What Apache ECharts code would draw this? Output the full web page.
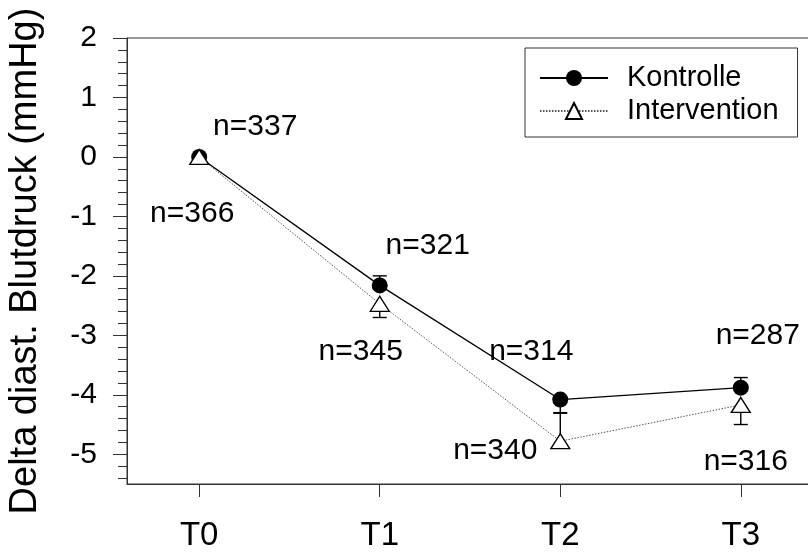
<!DOCTYPE html>
<html>
<head>
<meta charset="utf-8">
<script src="https://cdn.jsdelivr.net/npm/echarts@6/dist/echarts.min.js"></script>
<style>
  html, body { margin: 0; padding: 0; background: #fff; }
  #chart { width: 808px; height: 554px; }
</style>
</head>
<body>
<div id="chart"></div>
<script>
const categories = ['T0', 'T1', 'T2', 'T3'];
const kontrolle = [0, -2.16, -4.08, -3.88];
const intervention = [0, -2.47, -4.78, -4.17];
const kontrolleN = [337, 321, 314, 287];
const interventionN = [366, 345, 340, 316];
const kontrolleErrUp = [0, 0.16, 0, 0.17];
const kontrolleErrDown = [0, 0, 0.22, 0];
const interventionErrUp = [0, 0, 0.47, 0];
const interventionErrDown = [0, 0.23, 0, 0.33];
const yTickValues = [-5, -4, -3, -2, -1, 0, 1, 2];

// label placement (style only, pixel offsets from the marker)
const kLabelOffsets = [[56, -30], [48, -40], [-29, -48], [17, -52]];
const iLabelOffsets = [[-7, 57], [-19, 48], [-65, 10], [5, 57]];

const FONT = '"Liberation Sans", Arial, sans-serif';

const minorTicks = [];
for (let k = -27; k <= 10; k++) {
  const v = Math.round(k * 0.2 * 10) / 10;
  if (Math.abs(v - Math.round(v)) > 1e-9) minorTicks.push(v);
}

function errData(vals, up, dn) {
  return vals.map((v, i) => [i, v, up[i], dn[i]]);
}

function renderErr(params, api) {
  const x = api.value(0), y = api.value(1), up = api.value(2), dn = api.value(3);
  const c = api.coord([x, y]);
  const hw = 7;
  const st = { stroke: '#000', lineWidth: 1.4 };
  const ch = [];
  if (up > 0) {
    const t = api.coord([x, y + up]);
    ch.push({ type: 'line', shape: { x1: c[0], y1: c[1], x2: t[0], y2: t[1] }, style: st });
    ch.push({ type: 'line', shape: { x1: t[0] - hw, y1: t[1], x2: t[0] + hw, y2: t[1] }, style: st });
  }
  if (dn > 0) {
    const b = api.coord([x, y - dn]);
    ch.push({ type: 'line', shape: { x1: c[0], y1: c[1], x2: b[0], y2: b[1] }, style: st });
    ch.push({ type: 'line', shape: { x1: b[0] - hw, y1: b[1], x2: b[0] + hw, y2: b[1] }, style: st });
  }
  return { type: 'group', children: ch };
}

const chart = echarts.init(document.getElementById('chart'), null, { renderer: 'canvas' });
chart.setOption({
  animation: false,
  backgroundColor: '#fff',
  textStyle: { fontFamily: FONT },
  grid: {
    left: 127, top: 38, width: 686, height: 446,
    outerBoundsMode: 'none', containLabel: false,
    show: true, borderColor: '#333', borderWidth: 1, backgroundColor: 'transparent'
  },
  legend: {
    left: 525, top: 48,
    orient: 'vertical',
    data: ['Kontrolle', 'Intervention'],
    itemWidth: 68, itemHeight: 20, itemGap: 3,
    padding: [15, 19, 11, 14],
    borderColor: '#333', borderWidth: 1,
    textStyle: { fontSize: 29, fontFamily: FONT, color: '#000', padding: [0, 0, 0, 14], lineHeight: 30 }
  },
  xAxis: {
    type: 'value', min: -0.4, max: 3.4,
    splitLine: { show: false },
    axisLine: { show: true, onZero: false, lineStyle: { color: '#333', width: 1 } },
    axisTick: { show: true, length: 13, inside: false, customValues: [0, 1, 2, 3], lineStyle: { color: '#333' } },
    axisLabel: {
      customValues: [0, 1, 2, 3], fontSize: 33, color: '#000', margin: 35, fontFamily: FONT,
      formatter: v => categories[Math.round(v)]
    }
  },
  yAxis: [{
    type: 'value', min: -5.5, max: 2,
    name: 'Delta diast. Blutdruck (mmHg)', nameLocation: 'middle', nameGap: 82,
    nameTextStyle: { fontSize: 38, color: '#000', fontFamily: FONT },
    splitLine: { show: false },
    axisLine: { show: true, onZero: false, lineStyle: { color: '#333', width: 1 } },
    axisTick: { show: true, length: 14, customValues: yTickValues, lineStyle: { color: '#333' } },
    axisLabel: { customValues: yTickValues, fontSize: 30, color: '#000', margin: 30, fontFamily: FONT }
  }, {
    type: 'value', min: -5.5, max: 2, position: 'left',
    splitLine: { show: false },
    axisLine: { show: false, onZero: false },
    axisTick: { show: true, length: 9, customValues: minorTicks, lineStyle: { color: '#333' } },
    axisLabel: { show: false }
  }],
  series: [
    {
      type: 'custom', name: 'errK', z: 1, renderItem: renderErr,
      data: errData(kontrolle, kontrolleErrUp, kontrolleErrDown), silent: true
    },
    {
      type: 'custom', name: 'errI', z: 1, renderItem: renderErr,
      data: errData(intervention, interventionErrUp, interventionErrDown), silent: true
    },
    {
      type: 'line', name: 'Kontrolle', z: 3,
      symbol: 'circle', symbolSize: 16,
      itemStyle: { color: '#000' },
      lineStyle: { color: '#000', width: 1.3 },
      label: {
        show: true, position: 'inside', fontSize: 30, color: '#000', fontFamily: FONT,
        formatter: p => 'n=' + kontrolleN[p.dataIndex]
      },
      data: kontrolle.map((v, i) => ({ value: [i, v], label: { offset: kLabelOffsets[i] } }))
    },
    {
      type: 'line', name: 'Intervention', z: 4,
      symbol: 'triangle', symbolSize: [19, 15],
      itemStyle: { color: '#fff', borderColor: '#000', borderWidth: 1.3 },
      lineStyle: { color: '#555', width: 1, type: [1.5, 1.5] },
      label: {
        show: true, position: 'inside', fontSize: 30, color: '#000', fontFamily: FONT,
        formatter: p => 'n=' + interventionN[p.dataIndex]
      },
      data: intervention.map((v, i) => ({ value: [i, v], label: { offset: iLabelOffsets[i] } }))
    }
  ]
});
</script>
</body>
</html>
